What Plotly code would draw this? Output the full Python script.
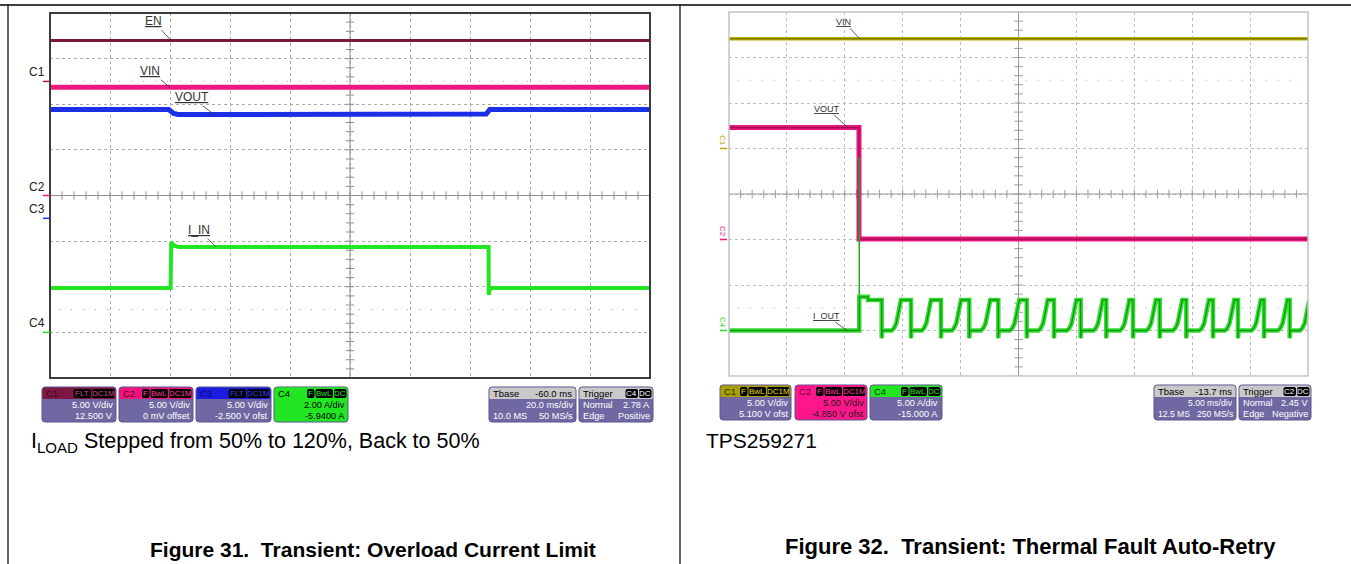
import numpy as np
import plotly.graph_objects as go

W, H = 1351, 564
FONT = "Liberation Sans, Arial, sans-serif"

# ---------------- Figure 31 (left scope) : values in screen divisions (10 x 8 grid) ----------------
L_EN_T = [0.0, 10.0]
L_EN_V = [3.40, 3.40]
L_VIN_T = [0.0, 10.0]
L_VIN_V = [2.37, 2.37]
L_VOUT_T = [0.0, 1.98, 2.06, 2.13, 7.27, 7.33, 10.0]
L_VOUT_V = [1.885, 1.885, 1.80, 1.775, 1.785, 1.885, 1.885]
L_IIN_T = [0.0, 2.01, 2.02, 2.07, 2.15, 7.31, 7.312, 7.33, 7.36, 10.0]
L_IIN_V = [-2.03, -2.03, -1.02, -1.10, -1.13, -1.13, -2.18, -2.05, -2.03, -2.03]
L_CH_NAMES = ["C1", "C2", "C3", "C4"]
L_CH_LEVELS = [2.5, 0.0, -0.5, -3.0]
L_CH_COLORS = ["#9b1f4f", "#ec1a7e", "#1b2fe6", "#22d822"]
L_TRIG_T = 2.0
L_TRIG_LEVEL = -1.61

# ---------------- Figure 32 (right scope) ----------------
R_VIN_T = [0.0, 10.0]
R_VIN_V = [3.41, 3.41]
R_VOUT_T = [0.0, 2.245, 2.245, 10.0]
R_VOUT_V = [1.46, 1.46, -0.99, -0.99]
R_IOUT_T = [0.0, 2.250, 2.250, 2.40, 2.40, 2.637, 2.637, 2.645]
R_IOUT_V = [-3.0, -3.0, -2.26, -2.26, -2.33, -2.33, -3.17, -3.0]
R_SPIKE_T = [2.250, 2.250]
R_SPIKE_V = [-3.0, 0.81]
R_PULSE_RISE = [2.810, 3.328, 3.846, 4.352, 4.853, 5.345, 5.838, 6.295,
                6.753, 7.211, 7.668, 8.126, 8.566, 9.024, 9.482, 9.862]
R_PULSE_FALL = [3.143, 3.661, 4.150, 4.651, 5.142, 5.613, 6.074, 6.516,
                6.978, 7.439, 7.898, 8.359, 8.791, 9.240, 9.684, None]
R_RISE_DT = [0.0, 0.04, 0.08, 0.12, 0.16]
R_RISE_V = [-3.0, -2.95, -2.84, -2.62, -2.33]
R_UNDERSHOOT = -3.17
R_CH_NAMES = ["C1", "C2", "C4"]
R_CH_LEVELS = [1.0, -1.0, -3.0]
R_CH_COLORS = ["#b0a800", "#ec1a7e", "#22d822"]
R_TRIG_T = 2.245
R_TRIG_LEVEL = -0.51

# build the I_OUT retry pulse train from the read-off pulse edges
r_iout_t = list(R_IOUT_T)
r_iout_v = list(R_IOUT_V)
for rs, fl in zip(R_PULSE_RISE, R_PULSE_FALL):
    for dt, lv in zip(R_RISE_DT, R_RISE_V):
        r_iout_t.append(rs + dt)
        r_iout_v.append(lv)
    if fl is not None:
        r_iout_t += [fl, fl, fl + 0.008]
        r_iout_v += [R_RISE_V[-1], R_UNDERSHOOT, R_RISE_V[0]]

# ---------------- helpers ----------------
def PX(x):
    return x / W


def PY(y):
    return 1 - y / H


L_FRAME = (50, 13, 650, 378)
R_FRAME = (729, 12, 1308, 376)

fig = go.Figure()


def line(x, y, color, width, ax="", dash=None):
    fig.add_trace(go.Scatter(x=x, y=y, mode="lines", xaxis="x" + ax, yaxis="y" + ax,
                             line=dict(color=color, width=width, dash=dash),
                             hoverinfo="skip", showlegend=False))


# --- center-line minor ticks and half-division dotted lines ---
for ax, tc in (("", "#8e8e8e"), ("2", "#9a9a9a")):
    tx = np.round(np.arange(0, 10.001, 0.2), 3)
    ty = np.round(np.arange(-4, 4.001, 0.2), 3)
    fig.add_trace(go.Scatter(x=tx, y=np.zeros_like(tx), mode="markers", xaxis="x" + ax, yaxis="y" + ax,
                             marker=dict(symbol="line-ns", size=6, line=dict(width=1, color=tc)),
                             hoverinfo="skip", showlegend=False))
    fig.add_trace(go.Scatter(x=np.full_like(ty, 5.0), y=ty, mode="markers", xaxis="x" + ax, yaxis="y" + ax,
                             marker=dict(symbol="line-ew", size=6, line=dict(width=1, color=tc)),
                             hoverinfo="skip", showlegend=False))
    for lv in (2.5, -2.5):
        line([0.15, 9.9], [lv, lv], "#a0a0a0", 1, ax, dash="1px,11px")
    line([5, 5], [-4, 4], tc, 1, ax)
    line([0, 10], [0, 0], tc, 1, ax)

# --- left traces ---
line(L_EN_T, L_EN_V, "#7f1737", 3)
line(L_VIN_T, L_VIN_V, "#ec1a7e", 5)
line(L_VOUT_T, L_VOUT_V, "#1b2fe6", 5)
line(L_IIN_T, L_IIN_V, "#22e622", 4)

# --- right traces ---
line(R_VIN_T, R_VIN_V, "#b8b000", 3.5, "2")
line(R_VIN_T, R_VIN_V, "#6b6400", 1, "2")
line(R_VOUT_T, R_VOUT_V, "#e8157e", 5, "2")
line(R_VOUT_T, R_VOUT_V, "#a30f4c", 1.2, "2")
line(R_SPIKE_T, R_SPIKE_V, "#16b016", 1.5, "2")
line(r_iout_t, r_iout_v, "#34dc34", 4.5, "2")
line(r_iout_t, r_iout_v, "#0d9a0d", 1.3, "2")

# trigger markers
fig.add_trace(go.Scatter(x=[L_TRIG_T], y=[-4.11], mode="markers", cliponaxis=False,
                         marker=dict(symbol="triangle-up", size=7, color="#22d822"),
                         hoverinfo="skip", showlegend=False))
fig.add_trace(go.Scatter(x=[10.06], y=[L_TRIG_LEVEL], mode="markers", cliponaxis=False,
                         marker=dict(symbol="triangle-left", size=7, color="#22d822"),
                         hoverinfo="skip", showlegend=False))
fig.add_trace(go.Scatter(x=[R_TRIG_T], y=[-4.11], mode="markers", cliponaxis=False, xaxis="x2", yaxis="y2",
                         marker=dict(symbol="triangle-up", size=7, color="#ec1a7e"),
                         hoverinfo="skip", showlegend=False))
fig.add_trace(go.Scatter(x=[10.08], y=[R_TRIG_LEVEL], mode="markers", cliponaxis=False, xaxis="x2", yaxis="y2",
                         marker=dict(symbol="triangle-left", size=7, color="#ec1a7e"),
                         hoverinfo="skip", showlegend=False))

# --- axes ---
def axis(dom, rng, gc):
    return dict(domain=dom, range=rng, dtick=1, tick0=0, showgrid=True, griddash="dot",
                gridcolor=gc, gridwidth=1, zeroline=False, showticklabels=False,
                ticks="", showline=False, fixedrange=True)


fig.update_layout(
    width=W, height=H, margin=dict(l=0, r=0, t=0, b=0),
    paper_bgcolor="white", plot_bgcolor="white",
    font=dict(family=FONT, color="#000"),
    xaxis=dict(axis([PX(L_FRAME[0]), PX(L_FRAME[2])], [0, 10], "#ababab"), anchor="y"),
    yaxis=dict(axis([PY(L_FRAME[3]), PY(L_FRAME[1])], [-4, 4], "#ababab"), anchor="x"),
    xaxis2=dict(axis([PX(R_FRAME[0]), PX(R_FRAME[2])], [0, 10], "#bdbdbd"), anchor="y2"),
    yaxis2=dict(axis([PY(R_FRAME[3]), PY(R_FRAME[1])], [-4, 4], "#bdbdbd"), anchor="x2"),
)

shapes = []
# page rules
shapes.append(dict(type="line", xref="paper", yref="paper", x0=0, x1=1, y0=PY(5), y1=PY(5),
                   line=dict(color="#000", width=1.5)))
for xv in (8, 680):
    shapes.append(dict(type="line", xref="paper", yref="paper", x0=PX(xv), x1=PX(xv), y0=PY(5), y1=0,
                       line=dict(color="#000", width=1.2)))
# scope frames
shapes.append(dict(type="rect", xref="paper", yref="paper", x0=PX(L_FRAME[0]), x1=PX(L_FRAME[2]),
                   y0=PY(L_FRAME[3]), y1=PY(L_FRAME[1]), line=dict(color="#3c3c3c", width=2)))
shapes.append(dict(type="rect", xref="paper", yref="paper", x0=PX(R_FRAME[0]), x1=PX(R_FRAME[2]),
                   y0=PY(R_FRAME[3]), y1=PY(R_FRAME[1]), line=dict(color="#c4c4c4", width=1.5)))

annotations = []

# channel ground markers
for nm, lv, col in zip(L_CH_NAMES, L_CH_LEVELS, L_CH_COLORS):
    shapes.append(dict(type="line", xref="paper", yref="y", x0=PX(43), x1=PX(50), y0=lv, y1=lv,
                       line=dict(color=col, width=1.5)))
    annotations.append(dict(text=nm, xref="paper", yref="y", x=PX(47), y=lv, xanchor="right",
                            yanchor="bottom", showarrow=False, font=dict(size=12, color="#222")))
for nm, lv, col in zip(R_CH_NAMES, R_CH_LEVELS, R_CH_COLORS):
    shapes.append(dict(type="line", xref="paper", yref="y2", x0=PX(720), x1=PX(727), y0=lv, y1=lv,
                       line=dict(color=col, width=1.5)))
    annotations.append(dict(text=nm, xref="paper", yref="y2", x=PX(723), y=lv, xanchor="center",
                            yanchor="bottom", textangle=90, showarrow=False,
                            font=dict(size=8, color=col)))

# signal name tags with leader lines
TAGS = [("EN", "", 2.02, 3.40, -18, -19, 12), ("VIN", "", 2.0, 2.37, -20, -16, 12),
        ("VOUT", "", 2.73, 1.78, -22, -17, 12), ("I_IN", "", 2.77, -1.13, -17, -17, 12),
        ("VIN", "2", 2.26, 3.41, -16, -17, 9), ("VOUT", "2", 2.055, 1.46, -21, -19, 9),
        ("I_OUT", "2", 2.04, -3.0, -21, -15, 9)]
for txt, ax, xv, yv, dx, dy, fs in TAGS:
    annotations.append(dict(text="<u>%s</u>" % txt, xref="x" + ax, yref="y" + ax, x=xv, y=yv,
                            ax=dx, ay=dy, showarrow=True, arrowhead=0, arrowwidth=0.8,
                            arrowcolor="#333", standoff=0, font=dict(size=fs, color="#333")))


# ---------------- info boxes under the scopes ----------------
def P(x, y):
    return f"{x / W:.5f},{1 - y / H:.5f}"


def rr_path(x0, y0, x1, y1, r):
    return (f"M{P(x0 + r, y0)} L{P(x1 - r, y0)} Q{P(x1, y0)} {P(x1, y0 + r)} L{P(x1, y1 - r)} "
            f"Q{P(x1, y1)} {P(x1 - r, y1)} L{P(x0 + r, y1)} Q{P(x0, y1)} {P(x0, y1 - r)} "
            f"L{P(x0, y0 + r)} Q{P(x0, y0)} {P(x0 + r, y0)} Z")


def top_path(x0, y0, x1, y1, r):
    return (f"M{P(x0, y1)} L{P(x0, y0 + r)} Q{P(x0, y0)} {P(x0 + r, y0)} L{P(x1 - r, y0)} "
            f"Q{P(x1, y0)} {P(x1, y0 + r)} L{P(x1, y1)} Z")


BODY = "#6f68a3"
GREY = "#c9c9c9"
BOXES = [
    # left scope
    dict(x0=42, x1=116, y0=387, y1=422, head="#7d1741", body=BODY, title="C1", tc="#3a0718",
         badges=["FLT", "DC1M"], bfg="#d24a80", rows=[("", "5.00 V/div"), ("", "12.500 V")], rc="#fff"),
    dict(x0=119, x1=193, y0=387, y1=422, head="#f0147c", body=BODY, title="C2", tc="#5a0025",
         badges=["F", "BwL", "DC1M"], bfg="#ff3c96", rows=[("", "5.00 V/div"), ("", "0 mV offset")], rc="#fff"),
    dict(x0=196, x1=271, y0=387, y1=422, head="#1c1ce0", body=BODY, title="C3", tc="#0a0a70",
         badges=["FLT", "DC1M"], bfg="#3a3aff", rows=[("", "5.00 V/div"), ("", "-2.500 V ofst")], rc="#fff"),
    dict(x0=274, x1=348, y0=387, y1=422, head="#22e622", body="#22e622", title="C4", tc="#000",
         badges=["F", "BwL", "DC"], bfg="#22e622", rows=[("", "2.00 A/div"), ("", "-5.9400 A")], rc="#000"),
    dict(x0=489, x1=576, y0=387, y1=422, head=GREY, body=BODY, title="Tbase", tc="#000", tr="-60.0 ms",
         badges=[], bfg="#fff", rows=[("", "20.0 ms/div"), ("10.0 MS", "50 MS/s")], rc="#fff"),
    dict(x0=579, x1=653, y0=387, y1=422, head=GREY, body=BODY, title="Trigger", tc="#000",
         badges=["C4", "DC"], bfg="#fff", rows=[("Normal", "2.78 A"), ("Edge", "Positive")], rc="#fff"),
    # right scope
    dict(x0=720, x1=791, y0=385, y1=420, head="#a99f00", body=BODY, title="C1", tc="#2e2c00",
         badges=["F", "BwL", "DC1M"], bfg="#e8df00", rows=[("", "5.00 V/div"), ("", "5.100 V ofst")], rc="#fff"),
    dict(x0=795, x1=867, y0=385, y1=420, head="#ff168a", body="#ff168a", title="C2", tc="#6a0030",
         badges=["F", "BwL", "DC1M"], bfg="#ff3c9c", rows=[("", "5.00 V/div"), ("", "-4.850 V ofst")], rc="#1a1a1a"),
    dict(x0=870, x1=942, y0=385, y1=420, head="#22e622", body=BODY, title="C4", tc="#004000",
         badges=["F", "BwL", "DC"], bfg="#22e622", rows=[("", "5.00 A/div"), ("", "-15.000 A")], rc="#fff"),
    dict(x0=1154, x1=1236, y0=385, y1=420, head=GREY, body=BODY, title="Tbase", tc="#000", tr="-13.7 ms",
         badges=[], bfg="#fff", rows=[("", "5.00 ms/div"), ("12.5 MS", "250 MS/s")], rc="#fff", rfs=8.6),
    dict(x0=1239, x1=1311, y0=385, y1=420, head=GREY, body=BODY, title="Trigger", tc="#000",
         badges=["C2", "DC"], bfg="#fff", rows=[("Normal", "2.45 V"), ("Edge", "Negative")], rc="#fff"),
]

for b in BOXES:
    x0, x1, y0, y1 = b["x0"], b["x1"], b["y0"], b["y1"]
    rfs = b.get("rfs", 9.2)
    shapes.append(dict(type="path", xref="paper", yref="paper", path=rr_path(x0, y0, x1, y1, 3),
                       fillcolor=b["body"], line=dict(color="#5b5590", width=1)))
    shapes.append(dict(type="path", xref="paper", yref="paper", path=top_path(x0 + 0.5, y0 + 0.5, x1 - 0.5, y0 + 12, 3),
                       fillcolor=b["head"], line=dict(width=0)))
    annotations.append(dict(text=b["title"], xref="paper", yref="paper", x=PX(x0 + 2), y=PY(y0 + 6.5),
                            xanchor="left", yanchor="middle", showarrow=False,
                            font=dict(size=9.5, color=b["tc"])))
    if b.get("tr"):
        annotations.append(dict(text=b["tr"], xref="paper", yref="paper", x=PX(x1 - 2), y=PY(y0 + 6.5),
                                xanchor="right", yanchor="middle", showarrow=False,
                                font=dict(size=9.5, color="#000")))
    bx = x1 - 1.5
    for bd in reversed(b["badges"]):
        bw = 2.5 + 5.0 * len(bd)
        shapes.append(dict(type="path", xref="paper", yref="paper",
                           path=rr_path(bx - bw, y0 + 2, bx, y0 + 11, 2), fillcolor="#000", line=dict(width=0)))
        annotations.append(dict(text=bd, xref="paper", yref="paper", x=PX(bx - bw / 2), y=PY(y0 + 6.5),
                                xanchor="center", yanchor="middle", showarrow=False,
                                font=dict(size=8, color=b["bfg"])))
        bx -= bw + 1
    for i, (lt, rt) in enumerate(b["rows"]):
        yy = PY(y0 + 18 + i * 11)
        if lt:
            annotations.append(dict(text=lt, xref="paper", yref="paper", x=PX(x0 + 1.5), y=yy,
                                    xanchor="left", yanchor="middle", showarrow=False,
                                    font=dict(size=rfs, color=b["rc"])))
        annotations.append(dict(text=rt, xref="paper", yref="paper", x=PX(x1 - 1.5), y=yy,
                                xanchor="right", yanchor="middle", showarrow=False,
                                font=dict(size=rfs, color=b["rc"])))

# ---------------- captions ----------------
annotations.append(dict(text="I<sub>LOAD</sub> Stepped from 50% to 120%, Back to 50%", xref="paper", yref="paper",
                        x=PX(29), y=PY(442), xanchor="left", yanchor="middle", showarrow=False,
                        font=dict(size=21.5, color="#000")))
annotations.append(dict(text="TPS259271", xref="paper", yref="paper", x=PX(704), y=PY(440),
                        xanchor="left", yanchor="middle", showarrow=False, font=dict(size=21, color="#000")))
annotations.append(dict(text="<b>Figure 31.\u00a0 Transient: Overload Current Limit</b>", xref="paper", yref="paper",
                        x=PX(373), y=PY(549), xanchor="center", yanchor="middle", showarrow=False,
                        font=dict(size=21, color="#000")))
annotations.append(dict(text="<b>Figure 32.\u00a0 Transient: Thermal Fault Auto-Retry</b>", xref="paper", yref="paper",
                        x=PX(1030), y=PY(546), xanchor="center", yanchor="middle", showarrow=False,
                        font=dict(size=22, color="#000")))

fig.update_layout(shapes=shapes, annotations=annotations)
fig.write_html("out.html", config={"displayModeBar": False},
               post_script="document.body.style.margin='0px';document.body.style.overflow='hidden';")
